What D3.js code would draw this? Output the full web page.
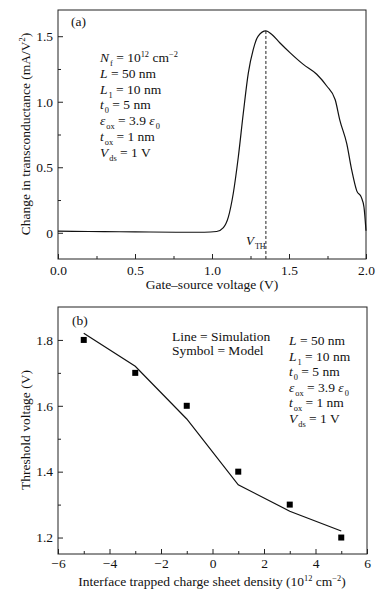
<!DOCTYPE html>
<html>
<head>
<meta charset="utf-8">
<script src="https://cdn.jsdelivr.net/npm/d3@7"></script>
<style>
body { margin: 0; background: #fff; }
svg text, svg tspan { font-family: "Liberation Serif", "Times New Roman", Times, serif !important; }
.tick text { font-size: 13.5px; fill: #111; }
.tick line { stroke: #222; }
</style>
</head>
<body>
<div id="chart"></div>
<script>

// (a) transconductance change vs gate-source voltage
var gateV = [0, 0.2, 0.4, 0.6, 0.8, 0.95, 1.03, 1.074, 1.106, 1.138, 1.171, 1.203, 1.236, 1.268, 1.30, 1.35,
             1.387, 1.44, 1.506, 1.593, 1.68, 1.745, 1.80, 1.83, 1.875, 1.907, 1.94, 1.97, 1.987, 2.0];
var dGm = [0.012, 0.01, 0.008, 0.006, 0.004, 0.004, 0.01, 0.04, 0.12, 0.30, 0.58, 0.91, 1.22, 1.40, 1.50, 1.54,
           1.515, 1.45, 1.375, 1.285, 1.21, 1.12, 1.015, 0.86, 0.68, 0.48, 0.32, 0.27, 0.195, 0.015];
var vth = 1.35, vthPeak = 1.54;

// (b) threshold voltage vs interface trapped charge
var density = [-5, -3, -1, 1, 3, 5];
var vthSim = [1.82, 1.72, 1.56, 1.36, 1.28, 1.22];
var vthModel = [1.8, 1.7, 1.6, 1.4, 1.3, 1.2];

var ticksA_x = [0, 0.5, 1.0, 1.5, 2.0], minorA_x = [0.25, 0.75, 1.25, 1.75];
var ticksA_y = [0, 0.5, 1.0, 1.5], minorA_y = [0.25, 0.75, 1.25];
var ticksB_x = [-6, -4, -2, 0, 2, 4, 6], minorB_x = [-5, -3, -1, 1, 3, 5];
var ticksB_y = [1.2, 1.4, 1.6, 1.8], minorB_y = [1.3, 1.5, 1.7];

var paramsA = [
  [["N","i"],["f","sub"],[" = 10"],["12","sup"],[" cm"],["\u22122","sup"]],
  [["L","i"],[" = 50 nm"]],
  [["L","i"],["1","sub"],[" = 10 nm"]],
  [["t","i"],["0","sub"],[" = 5 nm"]],
  [["\u03b5","i"],["ox","sub"],[" = 3.9 "],["\u03b5","i"],["0","sub"]],
  [["t","i"],["ox","sub"],[" = 1 nm"]],
  [["V","i"],["ds","sub"],[" = 1 V"]]
];
var paramsB = paramsA.slice(1);

var svg = d3.select("#chart").append("svg")
    .attr("width", 390)
    .attr("height", 598);

// writes a line of text made of plain / italic / sub / sup pieces
function richText(g, x, y, parts, size) {
  var t = g.append("text").attr("x", x).attr("y", y)
      .style("font-size", size + "px").attr("fill", "#111");
  var shift = 0;
  parts.forEach(function(p) {
    var target = p[1] == "sub" ? size * 0.3 : (p[1] == "sup" ? -size * 0.38 : 0);
    var s = t.append("tspan").attr("dy", target - shift).text(p[0]);
    shift = target;
    if (p[1] == "i") s.style("font-style", "italic");
    if (p[1] == "sub") s.attr("dx", 1);
    if (p[1] == "sub" || p[1] == "sup") s.style("font-size", (size * 0.62) + "px");
  });
  return t;
}

function drawAxes(x, y, tx, mx, ty, my, fmtX, fmtY, padX, padY) {
  var r = x.range(), h = y.range();
  svg.append("g").attr("transform", "translate(0," + h[0] + ")")
      .call(d3.axisBottom(x).tickValues(tx).tickFormat(fmtX).tickSizeInner(-5).tickSizeOuter(0).tickPadding(padX))
      .call(function(g) { g.select(".domain").remove(); });
  svg.append("g").attr("transform", "translate(0," + h[0] + ")")
      .call(d3.axisBottom(x).tickValues(mx).tickFormat("").tickSizeInner(-3).tickSizeOuter(0))
      .call(function(g) { g.select(".domain").remove(); });
  svg.append("g").attr("transform", "translate(" + r[0] + ",0)")
      .call(d3.axisLeft(y).tickValues(ty).tickFormat(fmtY).tickSizeInner(-5).tickSizeOuter(0).tickPadding(padY))
      .call(function(g) { g.select(".domain").remove(); });
  svg.append("g").attr("transform", "translate(" + r[0] + ",0)")
      .call(d3.axisLeft(y).tickValues(my).tickFormat("").tickSizeInner(-3).tickSizeOuter(0))
      .call(function(g) { g.select(".domain").remove(); });
  svg.append("rect")
      .attr("x", r[0]).attr("y", h[1])
      .attr("width", r[1] - r[0]).attr("height", h[0] - h[1])
      .attr("fill", "none").attr("stroke", "#222").attr("stroke-width", 1);
}

// ---------- panel (a) ----------
var xA = d3.scaleLinear().domain([0, 2]).range([58, 366]);
var yA = d3.scaleLinear().domain([-0.2, 1.7]).range([259, 10]);

drawAxes(xA, yA, ticksA_x, minorA_x, ticksA_y, minorA_y,
  d3.format(".1f"), function(d) { return d == 0 ? "0" : d3.format(".1f")(d); }, 6, 5);

svg.append("path")
    .datum(gateV.map(function(v, i) { return [v, dGm[i]]; }))
    .attr("fill", "none").attr("stroke", "#111").attr("stroke-width", 1.2)
    .attr("d", d3.line().x(function(d) { return xA(d[0]); }).y(function(d) { return yA(d[1]); })
      .curve(d3.curveMonotoneX));

svg.append("line")
    .attr("x1", xA(vth)).attr("x2", xA(vth))
    .attr("y1", yA(vthPeak)).attr("y2", yA(-0.2))
    .attr("stroke", "#222").attr("stroke-width", 1).attr("stroke-dasharray", "3,2");

richText(svg, 246, 245, [["V","i"],["TH","sub"]], 13);

svg.append("text").attr("x", 71).attr("y", 26).style("font-size", "13.5px").attr("fill", "#111").text("(a)");
paramsA.forEach(function(p, i) { richText(svg, 100, 62 + i * 15.8, p, 13.5); });

svg.append("text").attr("x", 212).attr("y", 289).attr("text-anchor", "middle")
    .style("font-size", "13.5px").attr("fill", "#111").text("Gate\u2013source voltage (V)");

richText(svg, 0, 0, [["Change in transconductance (mA/V"],["2","sup"],[")"]], 13.5)
    .attr("text-anchor", "middle")
    .attr("transform", "translate(30,134) rotate(-90)");

// ---------- panel (b) ----------
var xB = d3.scaleLinear().domain([-6, 6]).range([58, 367]);
var yB = d3.scaleLinear().domain([1.15, 1.9]).range([554, 307]);

drawAxes(xB, yB, ticksB_x, minorB_x, ticksB_y, minorB_y,
  d3.format("d"), d3.format(".1f"), 4, 5);

svg.append("path")
    .datum(density.map(function(v, i) { return [v, vthSim[i]]; }))
    .attr("fill", "none").attr("stroke", "#111").attr("stroke-width", 1.2)
    .attr("d", d3.line().x(function(d) { return xB(d[0]); }).y(function(d) { return yB(d[1]); }));

svg.selectAll("rect.model")
    .data(density.map(function(v, i) { return [v, vthModel[i]]; }))
    .enter().append("rect")
    .attr("class", "model")
    .attr("x", function(d) { return xB(d[0]) - 3; })
    .attr("y", function(d) { return yB(d[1]) - 3; })
    .attr("width", 6).attr("height", 6)
    .attr("fill", "#000");

svg.append("text").attr("x", 72).attr("y", 325).style("font-size", "13.5px").attr("fill", "#111").text("(b)");
svg.append("text").attr("x", 172).attr("y", 341).style("font-size", "13.5px").attr("fill", "#111").text("Line = Simulation");
svg.append("text").attr("x", 172).attr("y", 355).style("font-size", "13.5px").attr("fill", "#111").text("Symbol = Model");
paramsB.forEach(function(p, i) { richText(svg, 289, 345 + i * 15.6, p, 13.5); });

richText(svg, 212, 586, [["Interface trapped charge sheet density (10"],["12","sup"],[" cm"],["\u22122","sup"],[")"]], 13.5)
    .attr("text-anchor", "middle");

svg.append("text")
    .attr("text-anchor", "middle")
    .attr("transform", "translate(30,430) rotate(-90)")
    .style("font-size", "13.5px").attr("fill", "#111")
    .text("Threshold voltage (V)");

</script>
</body>
</html>
